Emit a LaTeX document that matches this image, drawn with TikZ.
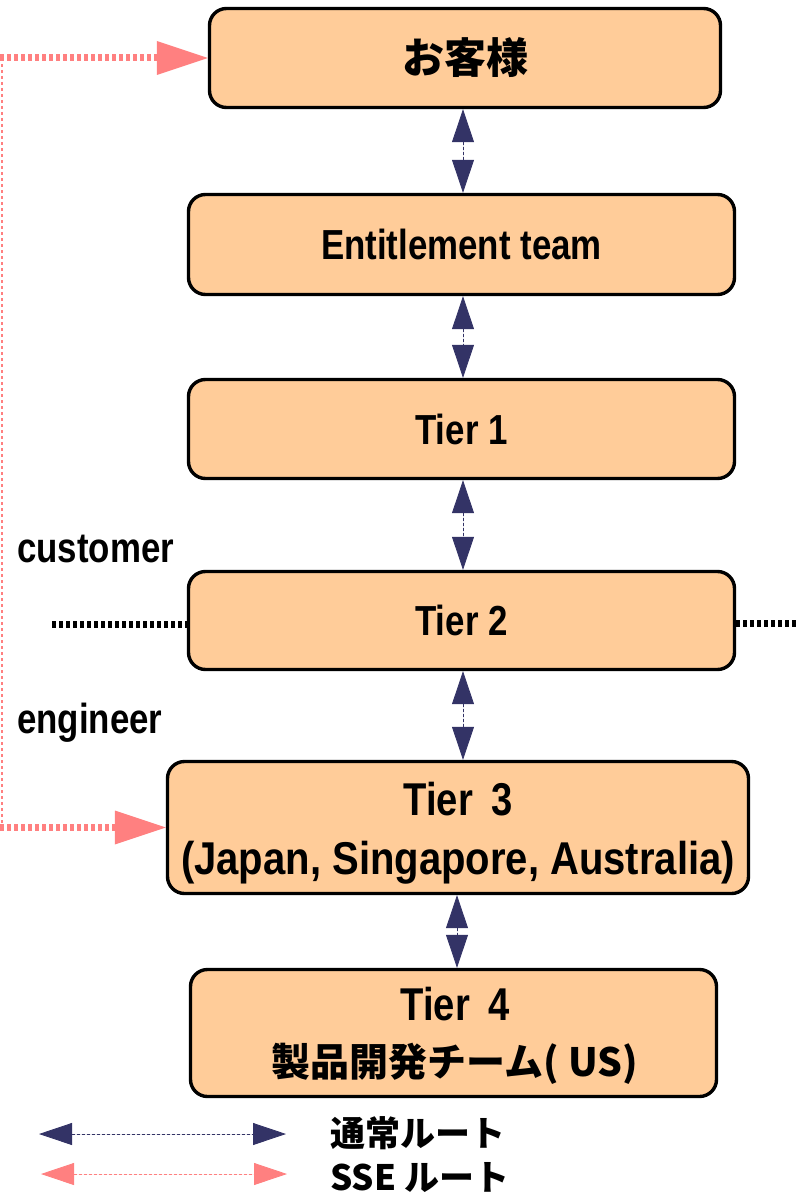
\documentclass[tikz,border=0pt]{standalone}
\usepackage{fontspec}
\setmainfont{Liberation Sans}
\newfontfamily\jpfont{Noto Sans CJK JP}
\usetikzlibrary{arrows.meta}
\definecolor{peach}{HTML}{FFCC99}
\definecolor{navy}{HTML}{333366}
\definecolor{sse}{HTML}{FF8080}
\newcommand\cnd[2][0.83]{\scalebox{#1}[1]{#2}}
\begin{document}
\begin{tikzpicture}[x=1pt,y=-1pt,
  box/.style={draw=black, line width=3.4pt, rounded corners=17pt, fill=peach, inner sep=0pt, align=center},
  lat/.style={font=\fontsize{42}{42}\selectfont\bfseries, inner sep=0pt},
  latbig/.style={font=\fontsize{46}{46}\selectfont\bfseries, inner sep=0pt},
  jp/.style={font=\jpfont\fontsize{42}{42}\selectfont\bfseries, inner sep=0pt},
  navyarr/.style={{Triangle[length=33pt,width=22pt]}-{Triangle[length=33pt,width=22pt]}, draw=navy, fill=navy, line width=0.8pt, dash pattern=on 3pt off 2pt},
  ssearr/.style={{Triangle[length=33pt,width=22pt]}-{Triangle[length=33pt,width=22pt]}, draw=sse, fill=sse, line width=0.8pt, dash pattern=on 3pt off 2pt},
  ssebig/.style={-{Triangle[length=51pt,width=34pt,line width=0pt]}, draw=sse, line width=7pt, dash pattern=on 4pt off 3pt},
  ssethin/.style={draw=sse, line width=2pt, dash pattern=on 3pt off 3pt},
  blackdot/.style={draw=black, line width=7pt, dash pattern=on 4pt off 3pt}
]
\useasboundingbox (0,0) rectangle (798,1196);

% boxes
\node[box, minimum width=511pt, minimum height=99pt, jp] (kyaku) at (465,58) {お客様};
\node[box, minimum width=546pt, minimum height=100pt, lat] (ent) at (461.5,244.5) {\cnd{Entitlement team}};
\node[box, minimum width=546pt, minimum height=99pt, lat] (t1) at (461.5,429) {\cnd{Tier 1}};
\node[box, minimum width=546pt, minimum height=98pt, lat] (t2) at (461.5,620.5) {\cnd{Tier 2}};
\node[box, minimum width=581pt, minimum height=132pt] (t3) at (458,827.5) {};
\node[box, minimum width=526pt, minimum height=127pt] (t4) at (453.5,1033) {};

% multi-line box texts
\node[latbig, anchor=base] (t3a) at (458,815) {\cnd{Tier\hspace{22pt}3}};
\node[latbig, anchor=base] (t3b) at (458,874) {\cnd[0.87]{(Japan, Singapore, Australia)}};
\node[latbig, anchor=base] (t4a) at (455,1020) {\cnd{Tier\hspace{22pt}4}};
\node[jp, anchor=base, font=\jpfont\fontsize{39}{39}\selectfont\bfseries] (t4b) at (455,1076) {製品開発チーム( US)};

% side labels
\node[lat, anchor=base west] (cust) at (17,562) {\cnd{customer}};
\node[lat, anchor=base west] (eng) at (17,733) {\cnd{engineer}};

% normal route arrows
\coordinate (ax) at (463,0);
\coordinate (bx) at (457,0);
\draw[navyarr] (kyaku.south -| ax) -- (ent.north -| ax);
\draw[navyarr] (ent.south -| ax) -- (t1.north -| ax);
\draw[navyarr] (t1.south -| ax) -- (t2.north -| ax);
\draw[navyarr] (t2.south -| ax) -- (t3.north -| ax);
\draw[navyarr] (t3.south -| bx) -- (t4.north -| bx);

% SSE route
\coordinate (s1) at (0,58);
\coordinate (s2) at (0,827.5);
\draw[ssethin] ([xshift=1.5pt]s1) -- ([xshift=1.5pt]s2);
\draw[ssebig] (s1) -- (kyaku.west);
\draw[ssebig] (s2) -- (t3.west);

% customer / engineer boundary
\coordinate (d1) at (52,624);
\coordinate (d2) at (798,623);
\draw[blackdot] (d1) -- (d1 -| t2.west);
\draw[blackdot] (d2 -| t2.east) -- (d2);

% legend
\coordinate (l1a) at (39,1134);
\coordinate (l1b) at (286,1134);
\coordinate (l2a) at (41,1174);
\coordinate (l2b) at (287,1174);
\draw[navyarr] (l1a) -- (l1b);
\draw[ssearr] (l2a) -- (l2b);
\node[jp, anchor=base west, font=\jpfont\fontsize{35}{35}\selectfont\bfseries] (lg1) at (330,1146) {通常ルート};
\node[jp, anchor=base west, font=\jpfont\fontsize{35}{35}\selectfont\bfseries] (lg2) at (330,1190) {SSE ルート};
\end{tikzpicture}
\end{document}
